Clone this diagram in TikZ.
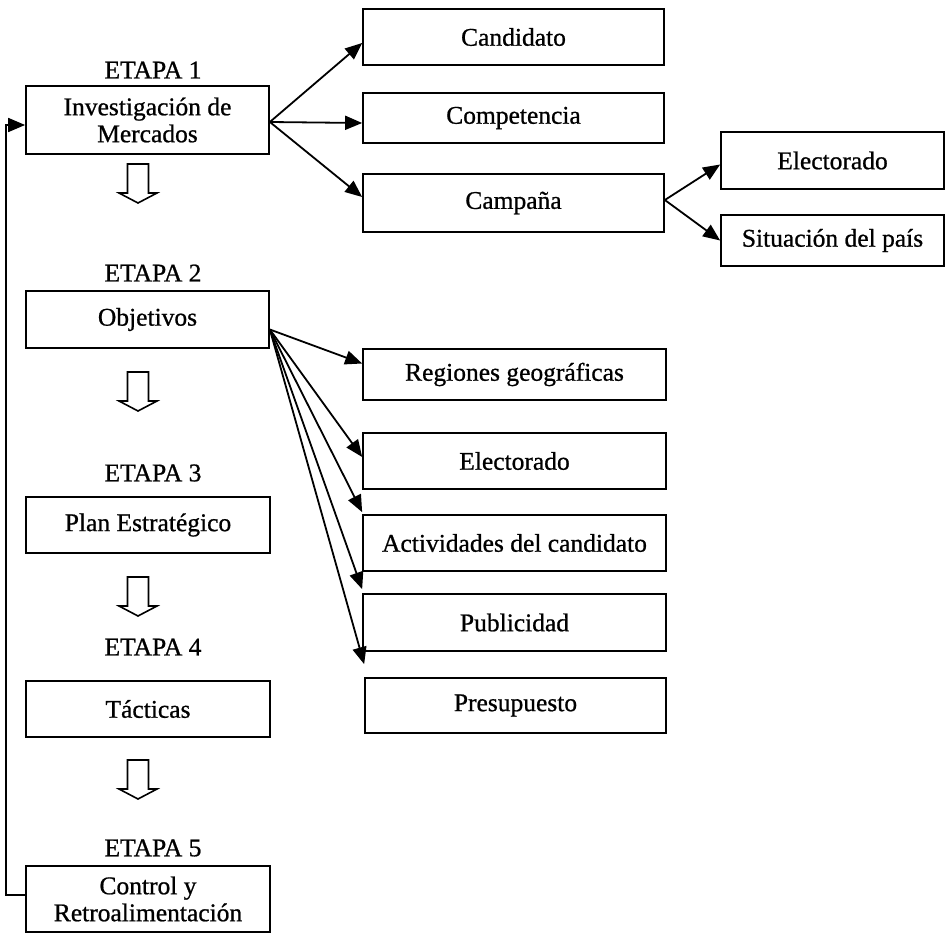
\documentclass[tikz,border=0pt]{standalone}
\usepackage{fontspec}
\setmainfont{Liberation Serif}[FakeBold=0.8]
\usetikzlibrary{arrows.meta}
\begin{document}
\begin{tikzpicture}[x=1pt,y=-1pt,
  box/.style={draw, line width=1.7pt, rectangle, inner sep=0pt, align=center, font=\fontsize{25.5}{27}\selectfont},
  lbl/.style={inner sep=0pt, font=\fontsize{25.5}{27}\selectfont},
  conn/.style={line width=1.8pt, -{Triangle[length=17pt,width=14pt]}},
  hollow/.style={line width=1.6pt, line join=miter},
  pics/downarrow/.style={code={\draw[hollow] (-10.5,0) -- (10.5,0) -- (10.5,29) -- (19,29) -- (0,39) -- (-19,29) -- (-10.5,29) -- cycle;}}]
\useasboundingbox (0,0) rectangle (945,934);

% left column
\node[lbl] (e1) at (153,70) {ETAPA 1};
\node[box, minimum width=243pt, minimum height=68pt] (inv) at (147.5,120) {Investigación de\\Mercados};
\pic at (138,164) {downarrow};
\node[lbl] (e2) at (153,273) {ETAPA 2};
\node[box, minimum width=243pt, minimum height=57pt] (obj) at (147.5,319.5) {Objetivos};
\pic at (138,372) {downarrow};
\node[lbl] (e3) at (153,473) {ETAPA 3};
\node[box, minimum width=244pt, minimum height=56pt] (plan) at (148,525) {Plan Estratégico};
\pic at (138,577) {downarrow};
\node[lbl] (e4) at (153,647) {ETAPA 4};
\node[box, minimum width=244pt, minimum height=56pt] (tac) at (148,709) {Tácticas};
\pic at (138,760) {downarrow};
\node[lbl] (e5) at (153,848) {ETAPA 5};
\node[box, minimum width=244pt, minimum height=66pt] (ctrl) at (148,899) {Control y\\Retroalimentación};

% first branch
\node[box, minimum width=301pt, minimum height=56pt] (cand) at (513.5,37) {Candidato};
\node[box, minimum width=301pt, minimum height=50pt] (comp) at (513.5,118) {Competencia};
\node[box, minimum width=301pt, minimum height=58pt] (camp) at (513.5,203) {Campaña};
\node[box, minimum width=223pt, minimum height=57pt] (elecA) at (832.5,160.5) {Electorado};
\node[box, minimum width=223pt, minimum height=51pt] (sit) at (832.5,240.5) {Situación del país};

% second branch
\node[box, minimum width=303pt, minimum height=51pt] (reg) at (514.5,374.5) {Regiones geográficas};
\node[box, minimum width=303pt, minimum height=56pt] (elecB) at (514.5,461) {Electorado};
\node[box, minimum width=303pt, minimum height=56pt] (act) at (514.5,543) {Actividades del candidato};
\node[box, minimum width=303pt, minimum height=57pt] (pub) at (514.5,622.5) {Publicidad};
\node[box, minimum width=301pt, minimum height=55pt] (pres) at (515.5,705.5) {Presupuesto};

% connectors from Investigación
\coordinate (invout) at ([yshift=-2pt]inv.east);
\draw[conn] (invout) -- ([yshift=-6pt]cand.west);
\draw[conn] (invout) -- ([yshift=-5pt]comp.west);
\draw[conn] (invout) -- ([yshift=6pt]camp.west);

% connectors from Campaña
\coordinate (campout) at ([yshift=3pt]camp.east);
\draw[conn] (campout) -- ([yshift=-4pt]elecA.west);
\draw[conn] (campout) -- (sit.west);

% connectors from Objetivos
\coordinate (objout) at ([yshift=-10pt]obj.east);
\draw[conn] (objout) -- ([yshift=11pt]reg.west);
\draw[conn] (objout) -- ([yshift=4pt]elecB.west);
\draw[conn] (objout) -- ([yshift=2pt]act.north west);
\draw[conn] (objout) -- ([yshift=4pt]pub.north west);
\draw[conn] (objout) -- ([yshift=13pt]pres.north west);

% feedback loop
\draw[conn] ([yshift=4pt]ctrl.west) -| ([xshift=-19pt,yshift=-5pt]inv.west) -- ([yshift=-5pt]inv.west);
\end{tikzpicture}
\end{document}
